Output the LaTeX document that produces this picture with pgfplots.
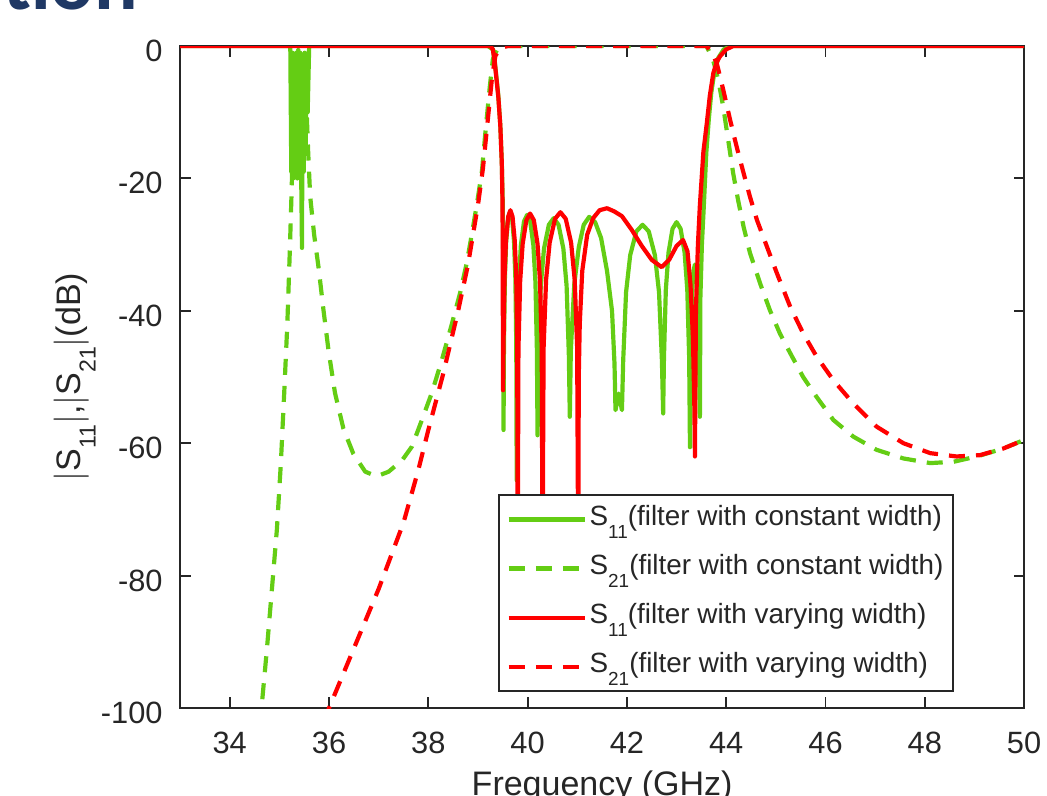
\documentclass[border=0pt]{standalone}
\usepackage{fontspec}
\setmainfont{Liberation Sans}
\newfontfamily\titlefont{Carlito}
\usepackage{graphicx}
\usepackage{pgfplots}
\pgfplotsset{compat=1.18}

\definecolor{cgreen}{RGB}{100,205,20}
\definecolor{cred}{RGB}{255,0,0}
\definecolor{axgray}{RGB}{38,38,38}
\definecolor{titleblue}{RGB}{31,56,100}

% MATLAB-style subscript: smaller and dropped low
\newcommand{\sub}[1]{\raisebox{-0.46em}{\scalebox{0.68}{#1}}}

\begin{document}
\begin{tikzpicture}
% page = cropped region of the slide
\useasboundingbox (-73.1pt,-35.7pt) rectangle (351.9pt,287.4pt);

\node[anchor=base west, text=titleblue, inner sep=0pt]
  at (-72pt,283.6pt) {\titlefont\bfseries\fontsize{33}{33}\selectfont tion};

\begin{axis}[
    scale only axis,
    width=342.6pt, height=268.7pt,
    xmin=33, xmax=50, ymin=-100, ymax=0,
    xtick={34,36,...,50},
    ytick={-100,-80,...,0},
    tick align=inside,
    major tick length=4.3pt,
    axis line style={draw=axgray, line width=0.8pt},
    every tick/.style={draw=axgray, line width=0.8pt},
    /pgf/number format/assume math mode=true,
    ticklabel style={font=\fontsize{12.5}{14}\selectfont, text=axgray},
    xticklabel style={anchor=base, yshift=-18.3pt},
    yticklabel style={anchor=east, inner sep=0pt, xshift=-6.9pt, yshift=-2pt},
    xlabel={Frequency (GHz)},
    ylabel={$|$S\sub{11}$|$,$|$S\sub{21}$|$(dB)},
    label style={font=\fontsize{13.8}{16}\selectfont, text=axgray},
    xlabel style={at={(axis description cs:0.5,-0.1329)}, anchor=base},
    ylabel style={at={(axis description cs:-0.1185,0.5)}, anchor=base},
    every axis plot/.append style={line width=1.7pt, line join=round},
    legend style={at={(0.917,0.024)}, anchor=south east,
        draw=axgray, line width=0.7pt, fill=white,
        font=\fontsize{11.3}{13}\selectfont, text=axgray,
        inner xsep=3pt, inner ysep=3pt, row sep=5.9pt,
        nodes={inner sep=1pt, text height=8.5pt, text depth=3.5pt}},
    legend cell align=left,
    legend image code/.code={\draw[#1] (0pt,0pt) -- (31pt,0pt);},
]

% S11, constant width
\addplot[cgreen] coordinates {
 (33,0) (35.22,0) (35.24,-19) (35.26,-1) (35.28,-20) (35.30,-2) (35.32,-18)
 (35.34,-1) (35.36,-20) (35.38,-3) (35.40,-19) (35.42,-1) (35.44,-20)
 (35.455,-30.5) (35.47,-2) (35.49,-19) (35.51,-1) (35.53,-15) (35.55,-2)
 (35.57,-10) (35.6,0) (39.2,0) (39.3,-0.5) (39.34,-2.4) (39.41,-7.5)
 (39.45,-12) (39.48,-17.5) (39.50,-24) (39.51,-35) (39.515,-58)
 (39.523,-45.5) (39.542,-35.2) (39.568,-29.6) (39.608,-26) (39.648,-25)
 (39.687,-26) (39.727,-29.6) (39.754,-35.2) (39.772,-45.5) (39.78,-65.6)
 (39.793,-46) (39.822,-35.7) (39.864,-30.1) (39.927,-26.5) (39.99,-25.5)
 (40.053,-26.5) (40.116,-30.1) (40.158,-35.7) (40.187,-46) (40.2,-58.8)
 (40.22,-46.5) (40.265,-36.2) (40.33,-30.6) (40.428,-27) (40.525,-26)
 (40.623,-27) (40.72,-30.6) (40.785,-36.2) (40.83,-46.5) (40.85,-56)
 (40.87,-46) (40.94,-36) (41.03,-30.4) (41.13,-27) (41.24,-25.8)
 (41.36,-26.6) (41.48,-29) (41.6,-34) (41.7,-40) (41.75,-48) (41.77,-55)
 (41.835,-52.5) (41.9,-55)
 (41.925,-47.5) (41.983,-37.2) (42.066,-31.6) (42.19,-28) (42.315,-27)
 (42.44,-28) (42.564,-31.6) (42.647,-37.2) (42.705,-47.5) (42.73,-55.5)
 (42.746,-47.1) (42.784,-36.8) (42.838,-31.2) (42.919,-27.6) (43.0,-26.6)
 (43.081,-27.6) (43.162,-31.2) (43.216,-36.8) (43.254,-47.1) (43.27,-60.6)
 (43.276,-53.5) (43.29,-43.2) (43.31,-37.6) (43.34,-34) (43.37,-33)
 (43.4,-34) (43.43,-37.6) (43.45,-43.2) (43.464,-53.5) (43.47,-56)
 (43.48,-38) (43.51,-30) (43.55,-24) (43.6,-16) (43.65,-11) (43.7,-7)
 (43.76,-4) (43.84,-1.8) (43.95,-0.5) (44.1,0) (50,0)
};
\addlegendentry{S\sub{11}(filter with constant width)}

% S21, constant width
\addplot[cgreen, dash pattern=on 6.5pt off 4.5pt] coordinates {
 (34.5,-115) (34.64,-100) (34.75,-91) (34.85,-82) (34.95,-73) (35.03,-63)
 (35.1,-52) (35.16,-42) (35.21,-31) (35.25,-21) (35.27,-12) (35.29,-4)
 (35.31,-1) (35.35,-3) (35.38,-0.5) (35.42,-4) (35.46,-1) (35.5,-2)
 (35.54,-8) (35.58,-16) (35.62,-22.7) (35.7,-28.5) (35.79,-33.5)
 (35.89,-40) (35.99,-46) (36.12,-52.4) (36.29,-57.8) (36.49,-61.6)
 (36.73,-64.3) (36.96,-65) (37.2,-64.3) (37.47,-62.6) (37.67,-60.5)
 (37.87,-56.5) (38.07,-52.4) (38.27,-47.5) (38.47,-42.1) (38.64,-37.3)
 (38.77,-32.9) (38.87,-28.7) (38.98,-23.8) (39.08,-18.9) (39.15,-13)
 (39.24,-6) (39.3,-2) (39.38,-0.6) (39.5,0) (43.6,0) (43.67,-1)
 (43.75,-2.5) (43.84,-5.1) (43.94,-9.2) (44.04,-14.2) (44.14,-19.2)
 (44.24,-23.3) (44.35,-27.3) (44.48,-31.3) (44.68,-35.8) (44.88,-39.9)
 (45.08,-43.4) (45.29,-46.4) (45.55,-50) (45.82,-53) (46.16,-56.5)
 (46.56,-59) (47.03,-61) (47.57,-62.3) (48.11,-63) (48.58,-62.8)
 (49.05,-62) (49.58,-60.8) (50,-59.5)
};
\addlegendentry{S\sub{21}(filter with constant width)}

% S11, varying width
\addplot[cred] coordinates {
 (33,0) (39.25,0) (39.30,-0.5) (39.34,-2.6) (39.41,-7.7) (39.45,-12)
 (39.48,-17.7) (39.495,-24) (39.505,-52)
 (39.514,-45.3) (39.535,-35) (39.564,-29.4) (39.608,-25.8) (39.653,-24.8)
 (39.697,-25.8) (39.741,-29.4) (39.771,-35) (39.791,-45.3) (39.8,-80)
 (39.815,-45.8) (39.85,-35.5) (39.9,-29.9) (39.975,-26.3) (40.05,-25.3)
 (40.125,-26.3) (40.2,-29.9) (40.25,-35.5) (40.285,-45.8) (40.3,-80)
 (40.322,-45.6) (40.372,-35.3) (40.444,-29.7) (40.552,-26.1) (40.66,-25.1)
 (40.768,-26.1) (40.876,-29.7) (40.948,-35.3) (40.998,-45.6) (41.02,-80)
 (41.03,-50) (41.05,-42) (41.1,-34) (41.2,-28.5) (41.32,-26) (41.45,-24.8)
 (41.6,-24.5) (41.75,-25) (41.9,-25.7) (42.1,-27.8) (42.3,-30.2)
 (42.5,-32.3) (42.7,-33.4) (42.85,-32.3) (43.0,-30.2) (43.13,-29.3)
 (43.22,-31) (43.28,-36) (43.33,-44) (43.36,-55) (43.37,-62)
 (43.39,-40) (43.43,-30) (43.47,-24) (43.54,-16) (43.61,-11.6)
 (43.67,-7.5) (43.74,-4.1) (43.8,-2.6) (43.87,-1.6) (44.0,-0.5)
 (44.14,0) (50,0)
};
\addlegendentry{S\sub{11}(filter with varying width)}

% S21, varying width
\addplot[cred, dash pattern=on 6.5pt off 4.5pt] coordinates {
 (35.9,-102) (36.0,-100) (36.5,-91) (37.0,-82) (37.5,-72) (37.8,-64)
 (38.0,-58) (38.3,-49.5) (38.6,-40) (38.8,-33) (39.0,-24) (39.1,-18.5)
 (39.2,-11) (39.28,-5) (39.35,-1.5) (39.45,-0.3) (39.6,0) (43.6,0)
 (43.7,-0.8) (43.81,-2.6) (43.94,-6.6) (44.08,-11.2) (44.21,-15.2)
 (44.35,-19.2) (44.48,-22.8) (44.62,-26.3) (44.82,-30.3) (45.02,-34.3)
 (45.29,-39.4) (45.55,-43.4) (45.82,-46.9) (46.16,-50.5) (46.56,-54)
 (47.03,-57.5) (47.57,-60) (48.11,-61.5) (48.64,-62) (49.11,-61.8)
 (49.58,-60.8) (50,-59.5)
};
\addlegendentry{S\sub{21}(filter with varying width)}

\end{axis}
\end{tikzpicture}
\end{document}
